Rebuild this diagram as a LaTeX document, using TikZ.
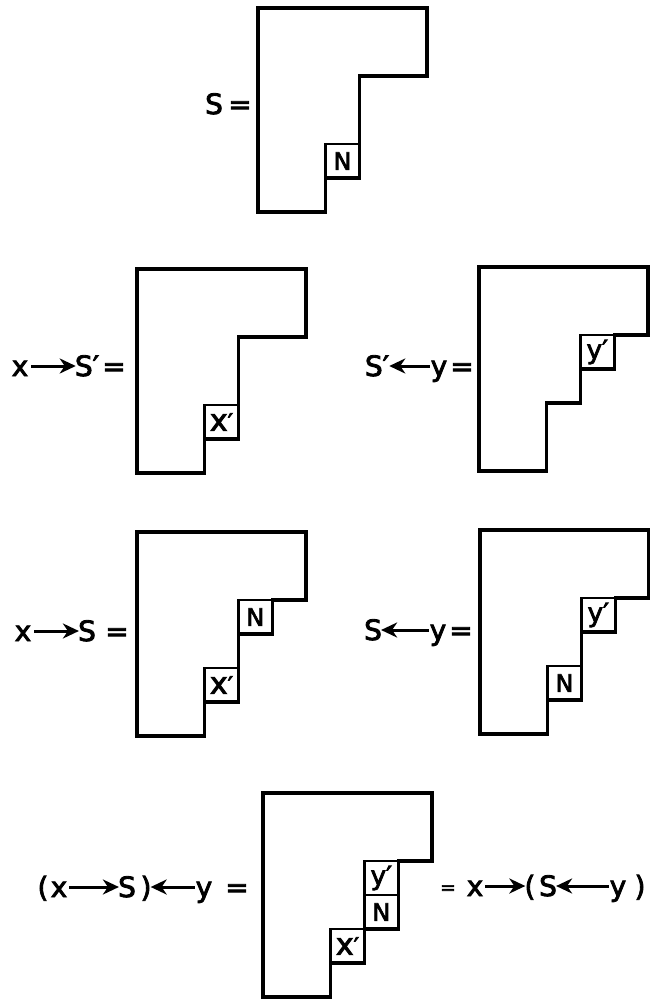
\documentclass[tikz,border=0pt]{standalone}
\usepackage{fontspec}
\setmainfont{DejaVu Sans}
\newfontfamily\lblfont[FakeBold=3]{DejaVu Sans}
\usetikzlibrary{arrows.meta}
\tikzset{
  outline/.style={line width=3.2pt, line join=miter},
  cellbox/.style={line width=2.6pt},
  lbl/.style={inner sep=0pt, anchor=base, font=\lblfont\fontsize{28}{28}\selectfont},
  smalleq/.style={inner sep=0pt, anchor=base, font=\lblfont\fontsize{19}{19}\selectfont},
  celllbl/.style={inner sep=0pt, font=\lblfont\fontsize{24}{24}\selectfont},
  tabarrow/.style={line width=3pt, -{Stealth[length=16pt,width=15pt,inset=5pt]}},
  grid unit/.style={x=33.8pt, y=-34pt}
}
\newcommand\ycell[4]{%
  \draw[cellbox] (#2,#3) rectangle ++(1,1);
  \node[celllbl] (#1) at (#2+0.5,#3+0.5) {#4};}
\newcommand\xprime{{\fontsize{30}{30}\selectfont x}′}
\newcommand\yprime{{\fontsize{26}{26}\selectfont y′}}
\begin{document}
\begin{tikzpicture}[x=1pt, y=-1pt]
\useasboundingbox (0,0) rectangle (650,999);

% ---------- top: S ----------
\begin{scope}[shift={(258,8)}, grid unit]
  \draw[outline] (0,0) -- (5,0) -- (5,2) -- (3,2) -- (3,5) -- (2,5) -- (2,6) -- (0,6) -- cycle;
  \ycell{A-N}{2}{4}{N}
\end{scope}
\node[lbl] (s0) at (214,114) {S};
\node[lbl] (e0) at (240,114) {=};

% ---------- x -> S' ----------
\begin{scope}[shift={(137,269)}, grid unit]
  \draw[outline] (0,0) -- (5,0) -- (5,2) -- (3,2) -- (3,5) -- (2,5) -- (2,6) -- (0,6) -- cycle;
  \ycell{B-x}{2}{4}{\xprime}
\end{scope}
\node[lbl] (x1) at (20,376) {x};
\node[lbl] (s1) at (87,376) {S′};
\node[lbl] (e1) at (114,376) {=};
\draw[tabarrow] ([xshift=3pt,yshift=10pt]x1.base east) -- ([xshift=1pt,yshift=10pt]s1.base west);

% ---------- S' <- y ----------
\begin{scope}[shift={(479,267)}, grid unit]
  \draw[outline] (0,0) -- (5,0) -- (5,2) -- (4,2) -- (4,3) -- (3,3) -- (3,4) -- (2,4) -- (2,6) -- (0,6) -- cycle;
  \ycell{C-y}{3}{2}{\yprime}
\end{scope}
\node[lbl] (s2) at (377,376) {S′};
\node[lbl] (y2) at (439,376) {y};
\node[lbl] (e2) at (462,376) {=};
\draw[tabarrow] ([xshift=-1pt,yshift=10pt]y2.base west) -- ([xshift=0pt,yshift=10pt]s2.base east);

% ---------- x -> S ----------
\begin{scope}[shift={(137,532)}, grid unit]
  \draw[outline] (0,0) -- (5,0) -- (5,2) -- (4,2) -- (4,3) -- (3,3) -- (3,5) -- (2,5) -- (2,6) -- (0,6) -- cycle;
  \ycell{D-N}{3}{2}{N}
  \ycell{D-x}{2}{4}{\xprime}
\end{scope}
\node[lbl] (x3) at (23,641) {x};
\node[lbl] (s3) at (87,641) {S};
\node[lbl] (e3) at (117,641) {=};
\draw[tabarrow] ([xshift=3pt,yshift=10pt]x3.base east) -- ([xshift=1pt,yshift=10pt]s3.base west);

% ---------- S <- y ----------
\begin{scope}[shift={(480,530)}, grid unit]
  \draw[outline] (0,0) -- (5,0) -- (5,2) -- (4,2) -- (4,3) -- (3,3) -- (3,5) -- (2,5) -- (2,6) -- (0,6) -- cycle;
  \ycell{E-y}{3}{2}{\yprime}
  \ycell{E-N}{2}{4}{N}
\end{scope}
\node[lbl] (s4) at (373,640) {S};
\node[lbl] (y4) at (438,640) {y};
\node[lbl] (e4) at (461,640) {=};
\draw[tabarrow] ([xshift=-1pt,yshift=10pt]y4.base west) -- ([xshift=-1pt,yshift=10pt]s4.base east);

% ---------- bottom ----------
\begin{scope}[shift={(263,793)}, grid unit]
  \draw[outline] (0,0) -- (5,0) -- (5,2) -- (4,2) -- (4,4) -- (3,4) -- (3,5) -- (2,5) -- (2,6) -- (0,6) -- cycle;
  \ycell{F-y}{3}{2}{\yprime}
  \ycell{F-N}{3}{3}{N}
  \ycell{F-x}{2}{4}{\xprime}
\end{scope}
% left label
\node[lbl] (p1) at (43,897) {(};
\node[lbl] (x5) at (59,897) {x};
\node[lbl] (s5) at (127,897) {S};
\node[lbl] (p2) at (146,897) {)};
\node[lbl] (y5) at (204,897) {y};
\node[lbl] (e5) at (237,897) {=};
\draw[tabarrow] ([xshift=2pt,yshift=10pt]x5.base east) -- ([xshift=1pt,yshift=10pt]s5.base west);
\draw[tabarrow] ([xshift=-1pt,yshift=10pt]y5.base west) -- ([xshift=-1pt,yshift=10pt]p2.base east);
% right label
\node[smalleq] (e6) at (448,894) {=};
\node[lbl] (x6) at (475,896) {x};
\node[lbl] (p3) at (530,896) {(};
\node[lbl] (s6) at (548,896) {S};
\node[lbl] (y6) at (618,896) {y};
\node[lbl] (p4) at (640,896) {)};
\draw[tabarrow] ([xshift=2pt,yshift=10pt]x6.base east) -- ([xshift=1pt,yshift=10pt]p3.base west);
\draw[tabarrow] ([xshift=-1pt,yshift=10pt]y6.base west) -- ([xshift=-1pt,yshift=10pt]s6.base east);
\end{tikzpicture}
\end{document}
